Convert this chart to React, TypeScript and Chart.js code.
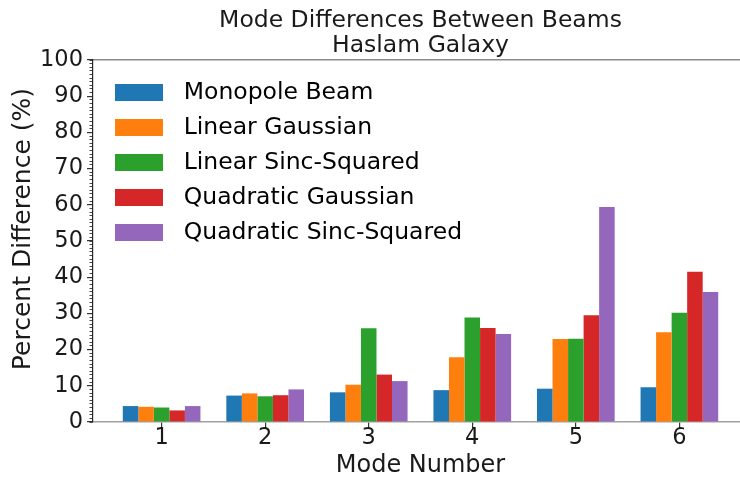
import React, { useEffect, useRef } from "react";
import { Chart, registerables } from "chart.js";

Chart.register(...registerables);

const modes = [1, 2, 3, 4, 5, 6];
const seriesNames = [
  "Monopole Beam",
  "Linear Gaussian",
  "Linear Sinc-Squared",
  "Quadratic Gaussian",
  "Quadratic Sinc-Squared",
];
const monopoleBeam = [4.4, 7.3, 8.2, 8.8, 9.2, 9.6];
const linearGaussian = [4.2, 7.9, 10.3, 17.9, 22.9, 24.8];
const linearSincSquared = [4.0, 7.1, 25.9, 28.9, 23.0, 30.2];
const quadraticGaussian = [3.2, 7.4, 13.1, 26.0, 29.5, 41.5];
const quadraticSincSquared = [4.4, 9.0, 11.3, 24.3, 59.4, 35.9];
const seriesColors = ["#1f77b4", "#ff7f0e", "#2ca02c", "#d62728", "#9467bd"];
const yMajorStep = 10;
const yMinorStep = 1;

const FONT = "'DejaVu Sans', sans-serif";
const TXT = "#1a1a1a";

export default function App() {
  const ref = useRef<HTMLCanvasElement | null>(null);

  useEffect(() => {
    document.body.style.margin = "0";
    document.body.style.overflow = "hidden";
    document.documentElement.style.overflow = "hidden";
    const canvas = ref.current!;
    const allSeries = [monopoleBeam, linearGaussian, linearSincSquared, quadraticGaussian, quadraticSincSquared];

    const legendPlacer = {
      id: "legendPlacer",
      afterLayout(chart: any) {
        const lg = chart.legend;
        if (!lg) return;
        lg.left = chart.chartArea.left + 13;
        lg.top = chart.chartArea.top + 15;
      },
    };

    const chart = new Chart(canvas, {
      type: "bar",
      data: {
        datasets: allSeries.map((vals, i) => ({
          label: seriesNames[i],
          data: vals.map((v, j) => ({ x: modes[j], y: v })),
          backgroundColor: seriesColors[i],
          borderWidth: 0,
          categoryPercentage: 0.75,
          barPercentage: 1,
          xAxisID: "x",
          yAxisID: "y",
        })),
      },
      plugins: [legendPlacer],
      options: {
        animation: false,
        responsive: false,
        devicePixelRatio: 1,
        layout: { padding: { left: 0, right: 12, top: 0, bottom: 0 } },
        plugins: {
          title: { display: false },
          tooltip: { enabled: false },
          legend: {
            position: "chartArea",
            align: "start",
            labels: {
              boxWidth: 66,
              boxHeight: 35,
              padding: 0,
              color: TXT,
              font: { family: FONT, size: 23.5 },
              generateLabels: (ch: any) =>
                ch.data.datasets.map((ds: any, i: number) => ({
                  text: ds.label,
                  fillStyle: seriesColors[i],
                  strokeStyle: "#ffffff",
                  lineWidth: 18,
                  hidden: false,
                  datasetIndex: i,
                })),
            },
          },
        },
        scales: {
          x: {
            type: "linear",
            position: "bottom",
            offset: false,
            min: 0.3375,
            max: 6.6625,
            afterBuildTicks: (s: any) => {
              s.ticks = modes.map((m) => ({ value: m }));
            },
            afterFit: (s: any) => {
              s.height = 57;
            },
            ticks: {
              color: TXT,
              font: { family: FONT, size: 22.5 },
              padding: -3,
              callback: (v: any) => String(v),
            },
            grid: { offset: false, drawOnChartArea: false, drawTicks: true, tickLength: 6, color: "#333333", lineWidth: 1.2 },
            border: { display: true, color: "#a0a0a0", width: 1.5 },
            title: {
              display: true,
              text: "Mode Number",
              color: TXT,
              font: { family: FONT, size: 24, lineHeight: 1.1 },
              padding: { top: 0, bottom: 0 },
            },
          },
          xTop: {
            type: "linear",
            position: "top",
            offset: false,
            min: 0.3375,
            max: 6.6625,
            afterFit: (s: any) => {
              s.height = 60;
            },
            ticks: { display: false },
            grid: { offset: false, drawOnChartArea: false, drawTicks: false },
            border: { display: true, color: "#8a8a8a", width: 1.5 },
            title: {
              display: true,
              text: ["Mode Differences Between Beams", "Haslam Galaxy"],
              color: TXT,
              font: { family: FONT, size: 23.5, lineHeight: 1.07 },
              padding: { top: 8, bottom: 0 },
            },
          },
          y: {
            type: "linear",
            position: "left",
            min: 0,
            max: 100,
            ticks: {
              stepSize: yMajorStep,
              color: TXT,
              font: { family: FONT, size: 22.5 },
              padding: 4,
            },
            afterFit: (s: any) => {
              s.width = 93;
            },
            grid: { drawOnChartArea: false, drawTicks: true, tickLength: 6, color: "#333333", lineWidth: 1.2 },
            border: { display: true, color: "#262626", width: 1.2 },
            title: {
              display: true,
              text: "\u00A0\u00A0\u00A0Percent Difference (%)",
              color: TXT,
              font: { family: FONT, size: 25, lineHeight: 1.1 },
              padding: { top: 10, bottom: 0 },
            },
          },
          yMinor: {
            type: "linear",
            position: { x: 0.3375 },
            min: 0,
            max: 100,
            ticks: { display: false, stepSize: yMinorStep, autoSkip: false },
            afterFit: (s: any) => {
              s.width = 0;
            },
            grid: { drawOnChartArea: false, drawTicks: true, tickLength: 3.5, color: "#333333", lineWidth: 0.9 },
            border: { display: false },
          },
        },
      },
    } as any);
    return () => chart.destroy();
  }, []);

  return (
    <div style={{ width: 760, height: 479 }}>
      <canvas ref={ref} width={760} height={479} style={{ width: 760, height: 479, display: "block" }} />
    </div>
  );
}
